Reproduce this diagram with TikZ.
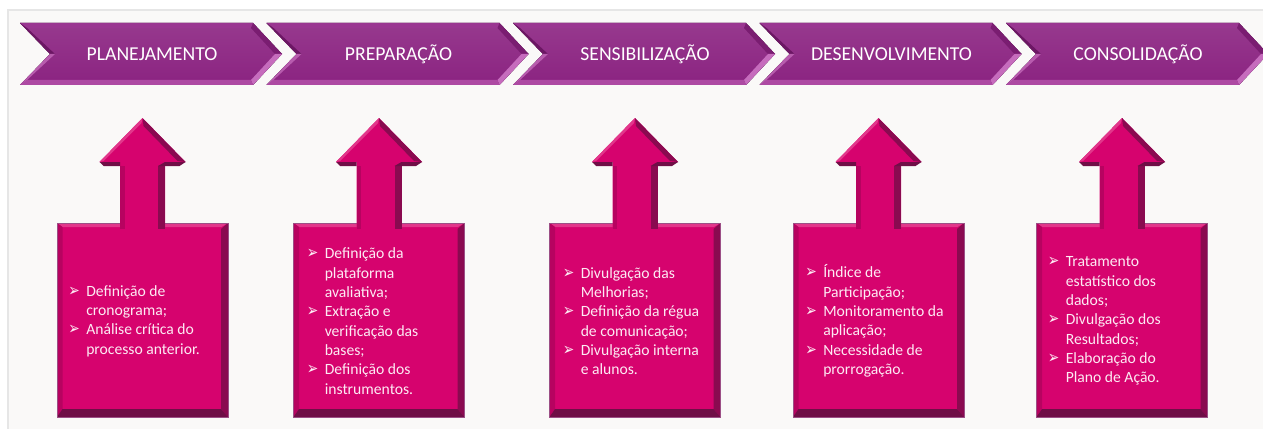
\documentclass[tikz,border=0pt]{standalone}
\usepackage{graphicx}
\usepackage{fontspec}
\setmainfont{Carlito}
\newfontfamily\symf{DejaVu Sans}
\usetikzlibrary{calc}
\definecolor{panel}{HTML}{FAF9F8}
\definecolor{panelline}{HTML}{E6E6E6}
\definecolor{chevface}{HTML}{8B2381}
\definecolor{chevtop}{HTML}{9A3691}
\definecolor{chevur}{HTML}{7A1D71}
\definecolor{chevlr}{HTML}{C66CBD}
\definecolor{chevbot}{HTML}{AD4AA3}
\definecolor{chevul}{HTML}{6C1764}
\definecolor{chevll}{HTML}{B85CAE}
\definecolor{boxface}{HTML}{D6036E}
\definecolor{boxtop}{HTML}{E2378B}
\definecolor{boxleft}{HTML}{B70360}
\definecolor{boxright}{HTML}{8A0A50}
\definecolor{boxbot}{HTML}{6F0E46}
\definecolor{boxline}{HTML}{9C4F86}
\definecolor{bodytext}{HTML}{FDEAF3}
\newcommand{\chx}{246.5}
\newcommand{\bul}{\makebox[10.2pt][l]{\scalebox{0.78}[1]{\symf\fontsize{10}{11}\selectfont ➢}}}
\newcommand{\ind}{\hspace*{10.2pt}}
\tikzset{
  head/.style={text=white,font=\fontsize{11.2}{13}\selectfont,inner sep=0pt},
  body/.style={text=bodytext,font=\fontsize{8.9}{11}\selectfont,align=left,
    inner sep=0pt,anchor=west}
}
\begin{document}
\begin{tikzpicture}[x=0.02cm,y=-0.02cm]
\useasboundingbox (0,0) rectangle (1263,429);
\fill[white] (0,0) rectangle (1263,429);
\fill[panel] (8,10) rectangle (1263,429);
\draw[panelline,line width=0.6pt] (8,429) -- (8,10) -- (1263,10);

% chevrons
\foreach \i in {0,...,4}{
  \pgfmathsetmacro{\lx}{20+\chx*\i}
  \fill[top color=chevface!90!white,bottom color=chevface]
    (\lx,23) -- (\lx+233,23) -- (\lx+262,54) -- (\lx+233,85) -- (\lx,85) -- (\lx+30,54) -- cycle;
  \fill[chevtop] (\lx,23) -- (\lx+233,23) -- (\lx+231,28) -- (\lx+7,28) -- cycle;
  \fill[chevur] (\lx+233,23) -- (\lx+262,54) -- (\lx+255,54) -- (\lx+231,28) -- cycle;
  \fill[chevlr] (\lx+262,54) -- (\lx+233,85) -- (\lx+231,80) -- (\lx+255,54) -- cycle;
  \fill[chevbot] (\lx+233,85) -- (\lx,85) -- (\lx+7,80) -- (\lx+231,80) -- cycle;
  \fill[chevul] (\lx,23) -- (\lx+7,28) -- (\lx+35,54) -- (\lx+30,54) -- cycle;
  \fill[chevll] (\lx+30,54) -- (\lx+35,54) -- (\lx+7,80) -- (\lx,85) -- cycle;
}
\node[head] (h1) at (152,54) {PLANEJAMENTO};
\node[head] (h2) at (398.5,54) {PREPARAÇÃO};
\node[head] (h3) at (645,54) {SENSIBILIZAÇÃO};
\node[head] (h4) at (891.5,54) {DESENVOLVIMENTO};
\node[head] (h5) at (1138,54) {CONSOLIDAÇÃO};

% boxes with arrows
\foreach \c in {142.5,379,635,878.5,1122}{
  \fill[boxface] (\c-85.5,223) rectangle (\c+85.5,417);
  \fill[boxtop] (\c-85.5,223) -- (\c+85.5,223) -- (\c+79,227) -- (\c-80,227) -- cycle;
  \fill[boxleft] (\c-85.5,223) -- (\c-80,227) -- (\c-80,409) -- (\c-85.5,417) -- cycle;
  \fill[boxright] (\c+85.5,223) -- (\c+85.5,417) -- (\c+78.5,409) -- (\c+78.5,229) -- cycle;
  \fill[boxbot] (\c-85.5,417) -- (\c-80,409) -- (\c+78.5,409) -- (\c+85.5,417) -- cycle;
  \draw[boxline,line width=0.3pt] (\c-85.5,223) rectangle (\c+85.5,417);
  \fill[boxface] (\c-22.5,229) -- (\c-22.5,162) -- (\c-43,162) -- (\c,118)
    -- (\c+43,162) -- (\c+22.5,162) -- (\c+22.5,229) -- cycle;
  \fill[boxleft] (\c-22.5,166) rectangle (\c-18,229);
  \fill[boxright] (\c+15.5,166) rectangle (\c+22.5,229);
  \fill[boxbot] (\c-43,162) -- (\c-22.5,162) -- (\c-22.5,166) -- (\c-39,166) -- cycle;
  \fill[boxbot] (\c+22.5,162) -- (\c+43,162) -- (\c+37,166) -- (\c+15.5,166) -- cycle;
  \fill[boxright] (\c,118) -- (\c+43,162) -- (\c+35,161) -- (\c+1,126) -- cycle;
  \fill[boxtop] (\c,118) -- (\c-43,162) -- (\c-39,161) -- (\c-1,123) -- cycle;
}

\node[body] (b1) at (68,321) {\bul Definição de\\\ind cronograma;\\\bul Análise crítica do\\\ind processo anterior.};
\node[body] (b2) at (306.5,321) {\bul Definição da\\\ind plataforma\\\ind avaliativa;\\\bul Extração e\\\ind verificação das\\\ind bases;\\\bul Definição dos\\\ind instrumentos.};
\node[body] (b3) at (562.5,321) {\bul Divulgação das\\\ind Melhorias;\\\bul Definição da régua\\\ind de comunicação;\\\bul Divulgação interna\\\ind e alunos.};
\node[body] (b4) at (805,321) {\bul Índice de\\\ind Participação;\\\bul Monitoramento da\\\ind aplicação;\\\bul Necessidade de\\\ind prorrogação.};
\node[body] (b5) at (1047.5,321) {\bul Tratamento\\\ind estatístico dos\\\ind dados;\\\bul Divulgação dos\\\ind Resultados;\\\bul Elaboração do\\\ind Plano de Ação.};
\end{tikzpicture}
\end{document}
